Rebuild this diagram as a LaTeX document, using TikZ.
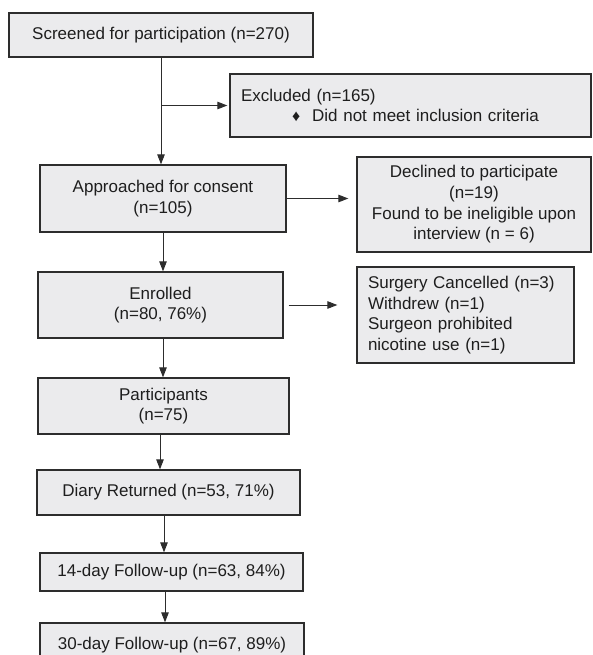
\documentclass[tikz,border=0pt]{standalone}
\usepackage{fontspec}
\setmainfont{Liberation Sans}
\usetikzlibrary{arrows.meta}

\definecolor{boxfill}{RGB}{235,235,237}
\definecolor{boxline}{RGB}{45,45,45}
\definecolor{textcol}{RGB}{30,30,30}

\begin{document}
\begin{tikzpicture}[
    x=1pt, y=-1pt,
    box/.style={
        rectangle,
        draw=boxline,
        fill=boxfill,
        line width=1.3pt,
        text=textcol,
        font=\fontsize{17}{20.7}\selectfont,
        align=center,
        inner sep=0pt
    },
    leftbox/.style={
        box,
        align=left,
        inner xsep=11pt
    },
    arrow/.style={
        draw=boxline,
        line width=1pt,
        -{Triangle[length=10pt,width=7.5pt]}
    }
]
\useasboundingbox (0,0) rectangle (592,655);

% Main flow
\node[box, minimum width=304pt, minimum height=44pt] (screen) at (161,35)
    {Screened for participation (n=270)};
\node[box, minimum width=246pt, minimum height=67pt] (appr) at (163,198.5)
    {Approached for consent\\(n=105)};
\node[box, minimum width=245pt, minimum height=66pt] (enrol) at (160.5,305)
    {Enrolled\\(n=80, 76\%)};
\node[box, minimum width=251pt, minimum height=56pt] (part) at (163.5,406)
    {Participants\\(n=75)};
\node[box, minimum width=263pt, minimum height=45pt] (diary) at (168.5,492.5)
    {Diary Returned (n=53, 71\%)};
\node[box, minimum width=263pt, minimum height=38pt] (fu14) at (171.5,572)
    {14-day Follow-up (n=63, 84\%)};
\node[box, minimum width=264pt, minimum height=45pt] (fu30) at (172,645.5)
    {30-day Follow-up (n=67, 89\%)};

% Side boxes
\node[leftbox, minimum width=361pt, minimum height=63pt, text width=339pt] (excl) at (410.5,105.5)
    {Excluded (n=165)\\\hspace*{51pt}{\fontsize{16}{16}\selectfont ♦}\hspace{12pt}Did not meet inclusion criteria};
\node[box, minimum width=234pt, minimum height=95pt] (decl) at (474,204.5)
    {Declined to participate\\(n=19)\\Found to be ineligible upon\\interview (n = 6)};
\node[leftbox, minimum width=217pt, minimum height=96pt, text width=195pt] (surg) at (465.5,315)
    {Surgery Cancelled (n=3)\\Withdrew (n=1)\\Surgeon prohibited\\nicotine use (n=1)};

% Arrows down
\draw[arrow] (screen.south) -- (screen.south |- appr.north);
\draw[arrow] (appr.south) -- (appr.south |- enrol.north);
\draw[arrow] (enrol.south) ++(2.5,0) coordinate (e1) -- (e1 |- part.north);
\draw[arrow] (part.south) ++(-3.5,0) coordinate (p1) -- (p1 |- diary.north);
\draw[arrow] (diary.south) ++(-4.5,0) coordinate (d1) -- (d1 |- fu14.north);
\draw[arrow] (fu14.south) ++(-6.5,0) coordinate (f1) -- (f1 |- fu30.north);

% Arrows right
\draw[arrow, shorten >=2pt] (screen.south |- excl.west) -- (excl.west);
\draw[arrow, shorten >=8pt] (appr.east) -- (appr.east -| decl.west);
\draw[arrow, shorten <=5pt, shorten >=19pt] (enrol.east) -- (enrol.east -| surg.west);

\end{tikzpicture}
\end{document}
